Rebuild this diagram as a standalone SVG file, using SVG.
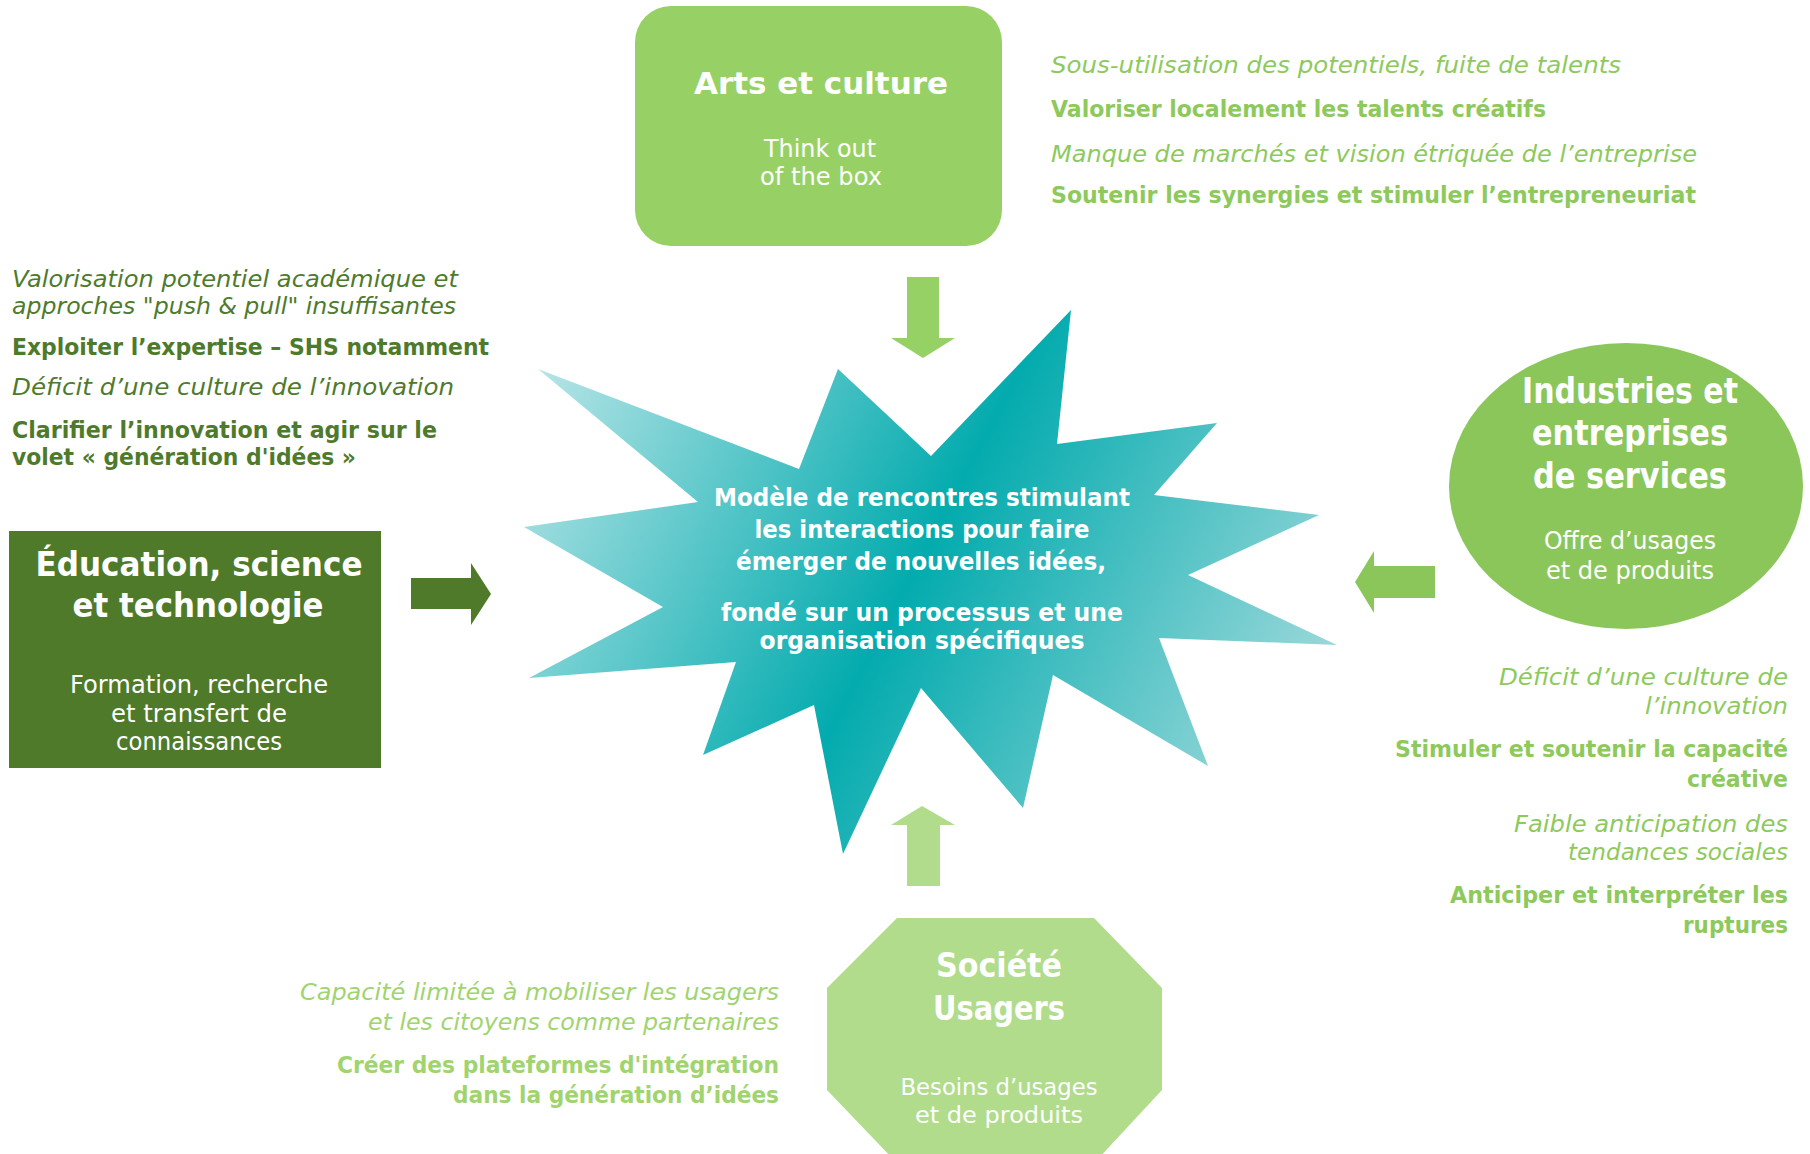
<svg xmlns="http://www.w3.org/2000/svg" width="1810" height="1154" viewBox="0 0 1810 1154">
<defs>
<linearGradient id="starGrad" gradientUnits="userSpaceOnUse" x1="540" y1="360" x2="1300" y2="760">
<stop offset="0" stop-color="#B8E5E7"/>
<stop offset="0.5" stop-color="#03ABAE"/>
<stop offset="1" stop-color="#A2DADC"/>
</linearGradient>
<style>
text{font-family:"DejaVu Sans","Noto Sans",sans-serif;}
.b{font-weight:bold;}
.i{font-style:italic;}
.w{fill:#FFFFFF;}
.dk{fill:#4E7A2B;}
.lg{fill:#8DC95C;}
.lg2{fill:#9FD46F;}
.ctr{font-family:"Liberation Sans",Arial,sans-serif;font-weight:bold;font-size:25px;fill:#FFFFFF;}
</style>
</defs>
<rect width="1810" height="1154" fill="#FFFFFF"/>

<g id="center">
<polygon fill="url(#starGrad)" points="538,369 799,469 838,369 931,456 1071,310 1057,444 1217,423 1154,495 1319,515 1188,575 1337,645 1159,638 1208,766 1053,675 1023,808 921,688 843,854 814,705 703,755 736,662 529,678 663,607 524,527 698,502"/>
<g class="ctr" text-anchor="middle">
<text x="922" y="506" textLength="416" lengthAdjust="spacingAndGlyphs">Modèle de rencontres stimulant</text>
<text x="922" y="538" textLength="335" lengthAdjust="spacingAndGlyphs">les interactions pour faire</text>
<text x="921" y="570" textLength="370" lengthAdjust="spacingAndGlyphs">émerger de nouvelles idées,</text>
<text x="922" y="621" textLength="402" lengthAdjust="spacingAndGlyphs">fondé sur un processus et une</text>
<text x="922" y="649" textLength="325" lengthAdjust="spacingAndGlyphs">organisation spécifiques</text>
</g>
</g>

<g id="connectors">
<polygon fill="#96D165" points="907,277 939,277 939,338 955,338 923,358 891,338 907,338"/>
<polygon fill="#4E7A29" points="411,578 471,578 471,563 491,594 471,625 471,609 411,609"/>
<polygon fill="#8BC65B" points="1435,566 1374,566 1374,551 1355,582 1374,613 1374,598 1435,598"/>
<polygon fill="#B0DC8C" points="907,886 940,886 940,825 955,825 922,806 891,825 907,825"/>
</g>

<g id="arts">
<rect x="635" y="6" width="367" height="240" rx="36" ry="36" fill="#97D165"/>
<text class="w b" x="821" y="94" font-size="30" text-anchor="middle" textLength="254" lengthAdjust="spacingAndGlyphs">Arts et culture</text>
<text class="w" x="820" y="157" font-size="24" text-anchor="middle" textLength="112" lengthAdjust="spacingAndGlyphs">Think out</text>
<text class="w" x="821" y="185" font-size="24" text-anchor="middle" textLength="122" lengthAdjust="spacingAndGlyphs">of the box</text>
</g>

<g id="arts-notes" class="lg" font-size="23">
<text class="i" x="1051" y="73" textLength="570" lengthAdjust="spacingAndGlyphs">Sous-utilisation des potentiels, fuite de talents</text>
<text class="b" x="1051" y="117" textLength="495" lengthAdjust="spacingAndGlyphs">Valoriser localement les talents créatifs</text>
<text class="i" x="1051" y="162" textLength="646" lengthAdjust="spacingAndGlyphs">Manque de marchés et vision étriquée de l’entreprise</text>
<text class="b" x="1051" y="203" textLength="645" lengthAdjust="spacingAndGlyphs">Soutenir les synergies et stimuler l’entrepreneuriat</text>
</g>

<g id="education">
<rect x="9" y="531" width="372" height="237" fill="#4E7A29"/>
<text class="w b" x="199" y="576" font-size="34" text-anchor="middle" textLength="327" lengthAdjust="spacingAndGlyphs">Éducation, science</text>
<text class="w b" x="198" y="617" font-size="34" text-anchor="middle" textLength="251" lengthAdjust="spacingAndGlyphs">et technologie</text>
<text class="w" x="199" y="693" font-size="24" text-anchor="middle" textLength="258" lengthAdjust="spacingAndGlyphs">Formation, recherche</text>
<text class="w" x="199" y="722" font-size="24" text-anchor="middle" textLength="176" lengthAdjust="spacingAndGlyphs">et transfert de</text>
<text class="w" x="199" y="750" font-size="24" text-anchor="middle" textLength="166" lengthAdjust="spacingAndGlyphs">connaissances</text>
</g>

<g id="education-notes" class="dk" font-size="23">
<text class="i" x="12" y="287" textLength="446" lengthAdjust="spacingAndGlyphs">Valorisation potentiel académique et</text>
<text class="i" x="12" y="314" textLength="444" lengthAdjust="spacingAndGlyphs">approches "push &amp; pull" insuffisantes</text>
<text class="b" x="12" y="355" textLength="477" lengthAdjust="spacingAndGlyphs">Exploiter l’expertise – SHS notamment</text>
<text class="i" x="12" y="395" textLength="442" lengthAdjust="spacingAndGlyphs">Déficit d’une culture de l’innovation</text>
<text class="b" x="12" y="438" textLength="425" lengthAdjust="spacingAndGlyphs">Clarifier l’innovation et agir sur le</text>
<text class="b" x="12" y="465" textLength="344" lengthAdjust="spacingAndGlyphs">volet « génération d'idées »</text>
</g>

<g id="industries">
<ellipse cx="1626" cy="486" rx="177" ry="143" fill="#8BC65B"/>
<text class="w b" x="1630" y="403" font-size="35" text-anchor="middle" textLength="216" lengthAdjust="spacingAndGlyphs">Industries et</text>
<text class="w b" x="1630" y="445" font-size="35" text-anchor="middle" textLength="196" lengthAdjust="spacingAndGlyphs">entreprises</text>
<text class="w b" x="1630" y="488" font-size="35" text-anchor="middle" textLength="194" lengthAdjust="spacingAndGlyphs">de services</text>
<text class="w" x="1630" y="549" font-size="24" text-anchor="middle" textLength="172" lengthAdjust="spacingAndGlyphs">Offre d’usages</text>
<text class="w" x="1630" y="579" font-size="24" text-anchor="middle" textLength="168" lengthAdjust="spacingAndGlyphs">et de produits</text>
</g>

<g id="industries-notes" class="lg" font-size="23" text-anchor="end">
<text class="i" x="1788" y="685" textLength="289" lengthAdjust="spacingAndGlyphs">Déficit d’une culture de</text>
<text class="i" x="1788" y="714" textLength="143" lengthAdjust="spacingAndGlyphs">l’innovation</text>
<text class="b" x="1788" y="757" textLength="393" lengthAdjust="spacingAndGlyphs">Stimuler et soutenir la capacité</text>
<text class="b" x="1788" y="787" textLength="101" lengthAdjust="spacingAndGlyphs">créative</text>
<text class="i" x="1788" y="832" textLength="274" lengthAdjust="spacingAndGlyphs">Faible anticipation des</text>
<text class="i" x="1788" y="860" textLength="220" lengthAdjust="spacingAndGlyphs">tendances sociales</text>
<text class="b" x="1788" y="903" textLength="338" lengthAdjust="spacingAndGlyphs">Anticiper et interpréter les</text>
<text class="b" x="1788" y="933" textLength="105" lengthAdjust="spacingAndGlyphs">ruptures</text>
</g>

<g id="societe">
<polygon fill="#B0DC8C" points="897,918 1094,918 1162,988 1162,1090 1097,1160 894,1160 827,1090 827,988"/>
<text class="w b" x="999" y="977" font-size="33" text-anchor="middle" textLength="126" lengthAdjust="spacingAndGlyphs">Société</text>
<text class="w b" x="999" y="1020" font-size="33" text-anchor="middle" textLength="132" lengthAdjust="spacingAndGlyphs">Usagers</text>
<text class="w" x="999" y="1095" font-size="23" text-anchor="middle" textLength="197" lengthAdjust="spacingAndGlyphs">Besoins d’usages</text>
<text class="w" x="999" y="1123" font-size="23" text-anchor="middle" textLength="168" lengthAdjust="spacingAndGlyphs">et de produits</text>
</g>

<g id="societe-notes" class="lg2" font-size="23" text-anchor="end">
<text class="i" x="779" y="1000" textLength="479" lengthAdjust="spacingAndGlyphs">Capacité limitée à mobiliser les usagers</text>
<text class="i" x="779" y="1030" textLength="411" lengthAdjust="spacingAndGlyphs">et les citoyens comme partenaires</text>
<text class="b" x="779" y="1073" textLength="442" lengthAdjust="spacingAndGlyphs">Créer des plateformes d'intégration</text>
<text class="b" x="779" y="1103" textLength="326" lengthAdjust="spacingAndGlyphs">dans la génération d’idées</text>
</g>
</svg>
